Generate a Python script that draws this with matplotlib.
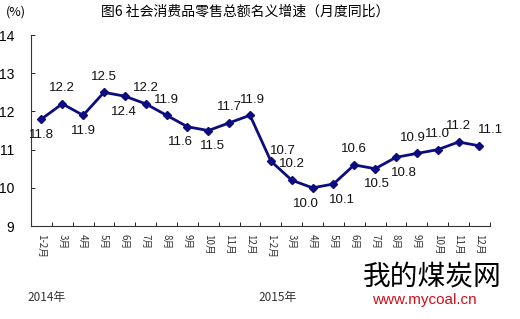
import numpy as np
import matplotlib.pyplot as plt

plt.rcParams['font.family'] = ['Liberation Sans', 'Noto Sans CJK SC', 'DejaVu Sans']

months = ['1-2月', '3月', '4月', '5月', '6月', '7月', '8月', '9月', '10月', '11月', '12月',
          '1-2月', '3月', '4月', '5月', '6月', '7月', '8月', '9月', '10月', '11月', '12月']
values = [11.8, 12.2, 11.9, 12.5, 12.4, 12.2, 11.9, 11.6, 11.5, 11.7, 11.9,
          10.7, 10.2, 10.0, 10.1, 10.6, 10.5, 10.8, 10.9, 11.0, 11.2, 11.1]
# label offsets in points (dx, dy); dy > 0 above the point, dy < 0 below
label_dx = [0, 0, 0, 0, -1, 0, 0, -5, 3, 0, 2,
            9, 0, -5, 6, 0, 1, 6, -3, 0, 0, 8]
label_dy = [-7, 7, -7, 7, -7, 7, 7, -7, -7, 7, 7,
            3, 7, -7, -7, 7, -7, -7, 7, 7, 7, 7]

fig = plt.figure(figsize=(5.2, 3.19), dpi=100)
ax = fig.add_axes([0.0596, 0.2915, 0.8824, 0.5985])

x = np.arange(len(values))
color = '#0c0c80'
ax.plot(x, values, color=color, lw=2, marker='D', ms=4.5, zorder=3)

for xi, v, dx, dy in zip(x, values, label_dx, label_dy):
    ax.annotate(f'{v:.1f}', (xi, v), xytext=(dx, dy), textcoords='offset points',
                ha='center', va='bottom' if dy > 0 else 'top', fontsize=9.5, color='#111111')

ax.set_xlim(-0.5, len(values) - 0.5)
ax.set_ylim(9, 14)
ax.set_yticks([9, 10, 11, 12, 13, 14])
ax.tick_params(axis='y', direction='in', length=3, labelsize=10, pad=12, width=0.6)

ax.set_xticks(x)
ax.set_xticklabels(months, rotation=270, fontsize=7, family=['Noto Sans CJK SC'], color='#333333')
ax.set_xticks(np.arange(len(values)) + 0.5, minor=True)
ax.tick_params(axis='x', which='major', length=0, pad=6)
ax.tick_params(axis='x', which='minor', direction='in', length=3, width=0.6)

for sp in ['top', 'right']:
    ax.spines[sp].set_visible(False)
for sp in ['left', 'bottom']:
    ax.spines[sp].set_linewidth(0.8)
    ax.spines[sp].set_color('#333333')

fig.text(245 / 520, 0.962, '图6 社会消费品零售总额名义增速（月度同比）', ha='center', va='center',
         fontsize=10, family=['Noto Sans CJK SC'])
fig.text(0.012, 0.962, '(%)', ha='left', va='center', fontsize=9, family=['Noto Sans CJK SC'])
fig.text(27 / 520, 1 - 297 / 319, '2014年', ha='left', va='center', fontsize=8.5,
         family=['Noto Sans CJK SC'], color='#333333')
fig.text(258 / 520, 1 - 297 / 319, '2015年', ha='left', va='center', fontsize=8.5,
         family=['Noto Sans CJK SC'], color='#333333')

# watermark
fig.text(363 / 520, 1 - 276 / 319, '我的煤炭网', ha='left', va='center', fontsize=20,
         family=['Noto Sans CJK SC'], color='black')
fig.text(372 / 520, 1 - 300 / 319, 'www.mycoal.cn', ha='left', va='center', fontsize=11,
         color='#d0101a')

fig.savefig('out.png', dpi=100)
